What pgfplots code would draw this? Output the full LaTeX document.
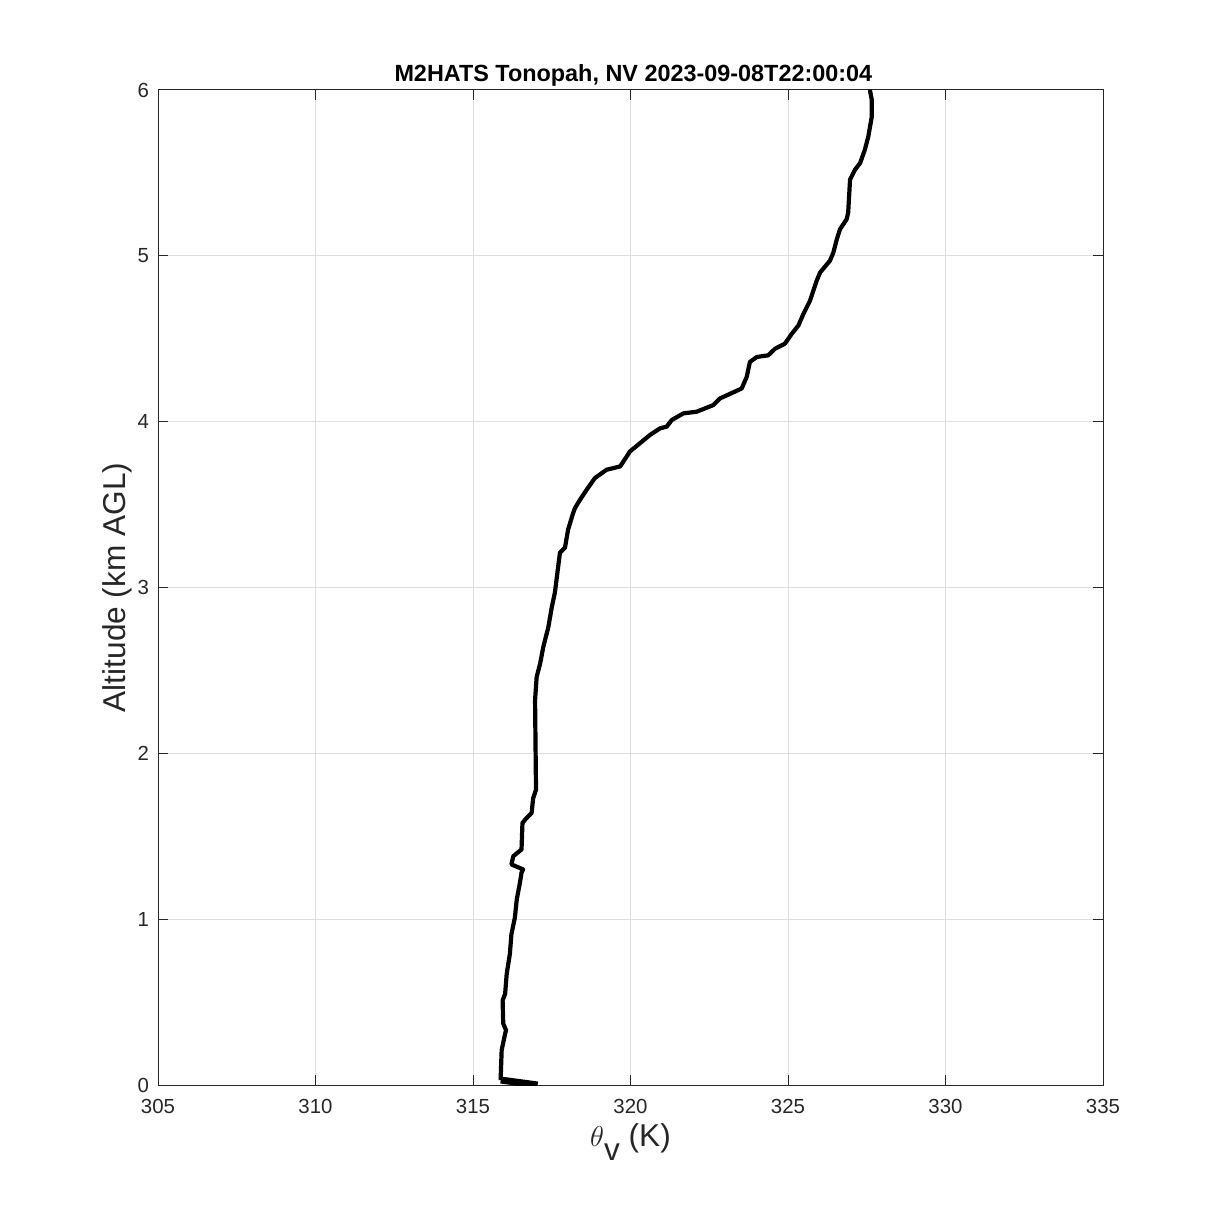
\documentclass[border=0pt]{standalone}
\usepackage{pgfplots}
\pgfplotsset{compat=1.18}
\usepackage{fontspec}
\setmainfont{Liberation Sans}
\definecolor{axgray}{rgb}{0.15,0.15,0.15}
\definecolor{gridgray}{rgb}{0.87,0.87,0.87}
\begin{document}
\begin{tikzpicture}[x=1pt,y=1pt]
\path[use as bounding box] (-79,-67) rectangle (530.5,542.5);
\begin{axis}[
  at={(0,0)}, anchor=south west,
  scale only axis, width=472.5pt, height=497.5pt,
  xmin=305, xmax=335, ymin=0, ymax=6,
  xtick={305,310,...,335}, ytick={0,1,...,6},
  grid=major,
  major grid style={gridgray, line width=0.5pt},
  axis line style={axgray, line width=0.5pt},
  tick style={axgray, line width=0.5pt},
  major tick length=5pt,
  tick align=inside,
  xtick pos=both, ytick pos=both,
  /pgf/number format/assume math mode=true,
  /pgf/number format/1000 sep={},
  tick label style={font=\fontsize{10.2}{12}\selectfont, text=axgray},
  xticklabel style={inner sep=0pt, anchor=north, yshift=-7pt},
  yticklabel style={inner sep=0pt, anchor=east, xshift=-4.3pt},
  xlabel={$\theta$\raisebox{-0.8ex}{v}\ (K)},
  ylabel={Altitude (km AGL)},
  every axis x label/.style={at={(axis description cs:0.5,-0.0623)}, anchor=base, font=\fontsize{15.8}{18}\selectfont, text=axgray},
  every axis y label/.style={at={(axis description cs:-0.0434,0.5)}, anchor=center, rotate=90, font=\fontsize{15.8}{18}\selectfont, text=axgray},
  title={\bfseries M2HATS Tonopah, NV 2023-09-08T22:00:04},
  every axis title/.style={at={(axis description cs:0.503,1.0083)}, anchor=base, font=\fontsize{11.7}{14}\selectfont, text=black},
]
\addplot[black, line width=3.5pt] coordinates {(317.05,0.00) (315.88,0.03)};
\addplot[black, line width=2.1pt, line join=round] coordinates {
(315.88,0.03)
(315.88,0.05)
(315.91,0.21)
(316.02,0.31)
(316.05,0.33)
(315.96,0.37)
(315.94,0.51)
(316.02,0.55)
(316.07,0.67)
(316.17,0.79)
(316.22,0.91)
(316.33,1.01)
(316.39,1.12)
(316.49,1.22)
(316.54,1.28)
(316.59,1.30)
(316.22,1.33)
(316.28,1.38)
(316.54,1.42)
(316.57,1.58)
(316.70,1.61)
(316.86,1.64)
(316.91,1.73)
(317.00,1.78)
(316.97,2.32)
(317.02,2.46)
(317.13,2.54)
(317.23,2.64)
(317.39,2.76)
(317.50,2.88)
(317.60,2.97)
(317.76,3.21)
(317.92,3.24)
(318.02,3.35)
(318.18,3.45)
(318.24,3.48)
(318.40,3.53)
(318.61,3.59)
(318.87,3.66)
(319.24,3.71)
(319.67,3.73)
(319.88,3.79)
(319.98,3.82)
(320.30,3.87)
(320.62,3.92)
(320.94,3.96)
(321.15,3.97)
(321.31,4.01)
(321.68,4.05)
(322.10,4.06)
(322.63,4.10)
(322.84,4.14)
(323.53,4.20)
(323.69,4.27)
(323.79,4.36)
(324.01,4.39)
(324.37,4.40)
(324.59,4.44)
(324.90,4.47)
(325.12,4.53)
(325.33,4.58)
(325.49,4.65)
(325.70,4.73)
(325.91,4.85)
(326.02,4.90)
(326.33,4.97)
(326.44,5.02)
(326.55,5.10)
(326.65,5.16)
(326.86,5.22)
(326.91,5.26)
(326.97,5.46)
(327.13,5.52)
(327.29,5.56)
(327.44,5.64)
(327.55,5.72)
(327.66,5.84)
(327.66,5.94)
(327.60,6.00)
};
\end{axis}
\end{tikzpicture}
\end{document}
